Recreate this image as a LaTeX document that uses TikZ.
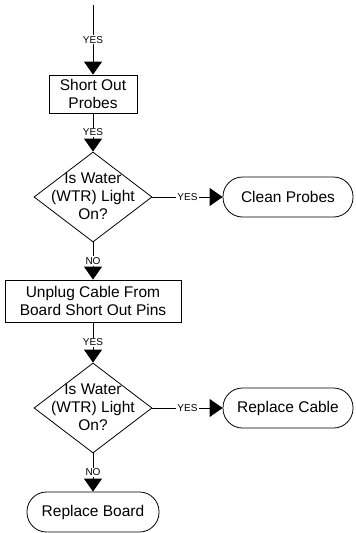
\documentclass[tikz,border=0pt]{standalone}
\usepackage{fontspec}
\setmainfont{Liberation Sans}
\usetikzlibrary{arrows.meta,shapes.geometric}
\begin{document}
\begin{tikzpicture}[x=1pt,y=-1pt,
  every node/.style={font=\fontsize{15.5}{18}\selectfont},
  proc/.style={draw,line width=0.8pt,inner sep=0pt,align=center},
  term/.style={draw,line width=0.8pt,inner sep=0pt,rounded corners=19.5pt,align=center,minimum height=40pt},
  dia/.style={draw,line width=0.8pt,shape=diamond,inner sep=0pt,minimum width=118pt,minimum height=90pt},
  dtext/.style={align=center,inner sep=0pt},
  conn/.style={line width=0.8pt,-{Triangle[width=18pt,length=13pt]}},
  lab/.style={fill=white,inner sep=1pt,font=\fontsize{10}{12}\selectfont}]
\useasboundingbox (0,0) rectangle (356,533);
\coordinate (start) at (93,5);
\node[proc,minimum width=88pt,minimum height=38pt] (b1) at (93,94) {Short Out\\Probes};
\node[dia] (d1) at (93,197) {};
\node[dtext] (t1) at (93,196) {Is Water\\(WTR) Light\\On?};
\node[term,minimum width=130pt] (c1) at (288,197) {Clean Probes};
\node[proc,minimum width=176pt,minimum height=42pt] (b2) at (93,301) {Unplug Cable From\\Board Short Out Pins};
\node[dia] (d2) at (93,408) {};
\node[dtext] (t2) at (93,407) {Is Water\\(WTR) Light\\On?};
\node[term,minimum width=130pt] (c2) at (288,408) {Replace Cable};
\node[term,minimum width=132pt] (c3) at (93,512) {Replace Board};

\draw[conn] (start) -- node[lab]{YES} (b1.north);
\draw[conn] (b1.south) -- node[lab]{YES} (d1.north);
\draw[conn] (d1.east) -- node[lab]{YES} (c1.west);
\draw[conn] (d1.south) -- node[lab]{NO} (b2.north);
\draw[conn] (b2.south) -- node[lab]{YES} (d2.north);
\draw[conn] (d2.east) -- node[lab]{YES} (c2.west);
\draw[conn] (d2.south) -- node[lab]{NO} (c3.north);
\end{tikzpicture}
\end{document}
